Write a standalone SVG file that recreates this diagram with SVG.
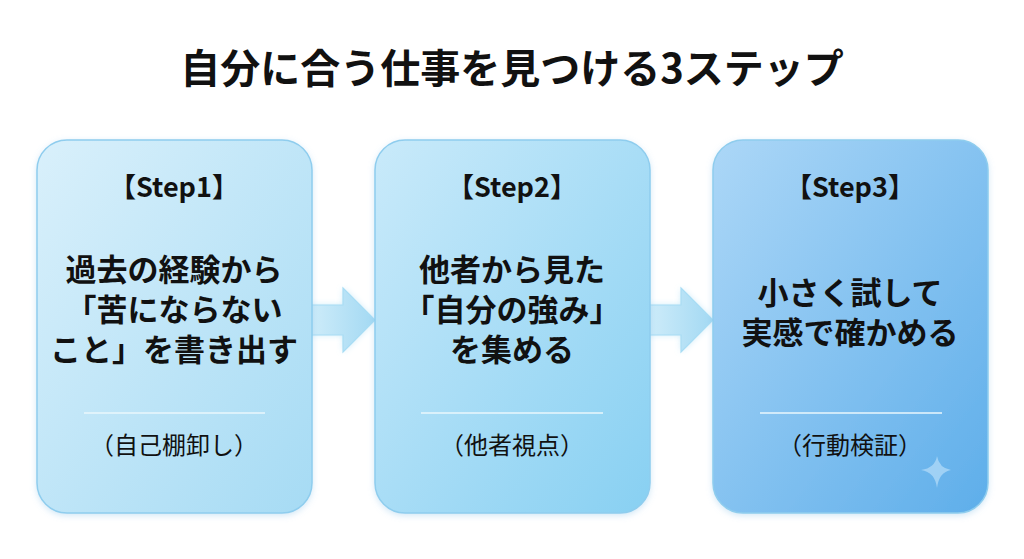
<svg xmlns="http://www.w3.org/2000/svg" width="1024" height="559" viewBox="0 0 1024 559">
<defs>
<linearGradient id="g1" x1="0" y1="0" x2="1" y2="1"><stop offset="0" stop-color="#d9f0fb"/><stop offset="1" stop-color="#a6dbf4"/></linearGradient>
<linearGradient id="g2" x1="0" y1="0" x2="1" y2="1"><stop offset="0" stop-color="#c9eafa"/><stop offset="1" stop-color="#88d0f2"/></linearGradient>
<linearGradient id="g3" x1="0" y1="0" x2="1" y2="1"><stop offset="0" stop-color="#acd7f7"/><stop offset="1" stop-color="#5eaeea"/></linearGradient>
<linearGradient id="ga" x1="0" y1="0" x2="1" y2="0"><stop offset="0" stop-color="#d3eefa"/><stop offset="1" stop-color="#a3d9f3"/></linearGradient>
<filter id="glow" x="-30%" y="-30%" width="160%" height="160%"><feGaussianBlur stdDeviation="3"/></filter>
<filter id="sh" x="-10%" y="-10%" width="120%" height="120%"><feDropShadow dx="0" dy="2" stdDeviation="3" flood-color="#7fbde6" flood-opacity="0.35"/></filter>
</defs>
<style>
.box{stroke:#8fcdee;stroke-width:1.5}
.title{font-family:"Noto Sans CJK JP","Noto Sans",sans-serif;font-weight:700;font-size:40px;fill:#111}
.step{font-family:"Noto Sans CJK JP","Noto Sans",sans-serif;font-weight:700;font-size:27px;fill:#111;text-anchor:middle}
.main{font-family:"Noto Sans CJK JP",sans-serif;font-weight:700;font-size:31px;fill:#111;text-anchor:middle}
.sub{font-family:"Noto Sans CJK JP",sans-serif;font-weight:400;font-size:24px;fill:#111;text-anchor:middle}
.div{stroke:#eaf7fd;stroke-width:1.5}
.arrow{fill:url(#ga);stroke:#a8dcf4;stroke-width:1.2}
</style>
<rect width="1024" height="559" fill="#ffffff"/>
<text class="title" x="512" y="83" text-anchor="middle">自分に合う仕事を見つける3ステップ</text>
<g id="connectors">
<path d="M303,305 H343 V288 L375,320 L343,352 V335 H303 Z" fill="#bfe6f8" filter="url(#glow)" opacity="0.8"/>
<path class="arrow" d="M303,305 H343 V288 L375,320 L343,352 V335 H303 Z"/>
<path d="M641,305 H681 V288 L713,320 L681,352 V335 H641 Z" fill="#bfe6f8" filter="url(#glow)" opacity="0.8"/>
<path class="arrow" d="M641,305 H681 V288 L713,320 L681,352 V335 H641 Z"/>
</g>
<g id="step1">
<rect class="box" x="37" y="140" width="275" height="373" rx="30" fill="url(#g1)" filter="url(#sh)"/>
<text class="step" x="174" y="197">【Step1】</text>
<text class="main" x="174" y="281">過去の経験から</text>
<text class="main" x="174" y="321">「苦にならない</text>
<text class="main" x="174" y="361">こと」を書き出す</text>
<line class="div" x1="84" y1="413" x2="265" y2="413"/>
<text class="sub" x="174" y="454">（自己棚卸し）</text>
</g>
<g id="step2">
<rect class="box" x="375" y="140" width="275" height="373" rx="30" fill="url(#g2)" filter="url(#sh)"/>
<text class="step" x="512" y="197">【Step2】</text>
<text class="main" x="512" y="281">他者から見た</text>
<text class="main" x="512" y="321">「自分の強み」</text>
<text class="main" x="512" y="361">を集める</text>
<line class="div" x1="421" y1="413" x2="603" y2="413"/>
<text class="sub" x="512" y="454">（他者視点）</text>
</g>
<g id="step3">
<rect class="box" x="713" y="140" width="275" height="373" rx="30" fill="url(#g3)" filter="url(#sh)"/>
<text class="step" x="850" y="197">【Step3】</text>
<text class="main" x="850" y="304">小さく試して</text>
<text class="main" x="850" y="344">実感で確かめる</text>
<line class="div" x1="760" y1="413" x2="942" y2="413"/>
<text class="sub" x="850" y="454">（行動検証）</text>
<path d="M937,456 Q939,468 951,470 Q939,472 937,488 Q935,472 921,470 Q935,468 937,456 Z" fill="#a9d6f7" opacity="0.85"/>
</g>
</svg>
